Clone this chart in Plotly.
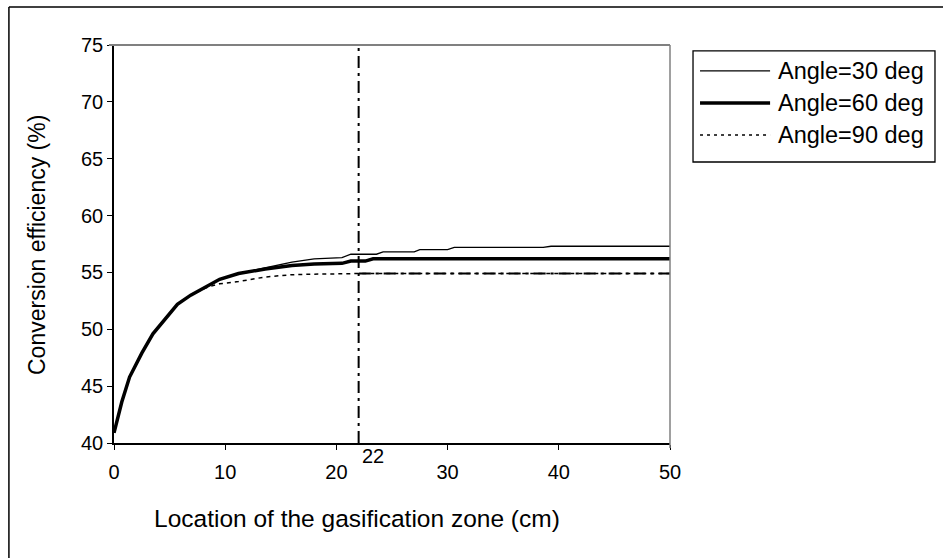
import plotly.graph_objects as go

# location of the gasification zone (cm) and conversion efficiency (%)
x_30 = [0, 0.7, 1.4, 2.5, 3.5, 4.6, 5.7, 6.9, 8.4, 9.5, 11.2, 13.6, 16, 18, 20.5, 21.3,
        23.6, 24.2, 27.0, 27.5, 30.0, 30.6, 38.6, 39.3, 50]
y_30 = [40.9, 43.6, 45.8, 47.9, 49.6, 50.9, 52.2, 53.0, 53.8, 54.4, 54.9, 55.4, 55.9, 56.2, 56.3, 56.6,
        56.6, 56.8, 56.8, 57.0, 57.0, 57.2, 57.2, 57.3, 57.3]

x_60 = [0, 0.7, 1.4, 2.5, 3.5, 4.6, 5.7, 6.9, 8.4, 9.5, 11.2, 13.6, 16, 18, 20.5, 21.3,
        22.6, 23.3, 50]
y_60 = [40.9, 43.6, 45.8, 47.9, 49.6, 50.9, 52.2, 53.0, 53.8, 54.4, 54.9, 55.3, 55.6, 55.75, 55.8, 56.0,
        56.0, 56.2, 56.2]

x_90 = [0, 0.7, 1.4, 2.5, 3.5, 4.6, 5.7, 6.9, 8.4, 9.5, 11.2, 13.6, 16, 18, 22, 50]
y_90 = [40.9, 43.6, 45.8, 47.9, 49.6, 50.9, 52.2, 53.0, 53.7, 54.0, 54.2, 54.6, 54.8, 54.85, 54.9, 54.9]

# marker lines at the chosen zone location
ref_x = 22
ref_y = 54.9

names = ['Angle=30 deg', 'Angle=60 deg', 'Angle=90 deg']

FONT = 'Arial, Liberation Sans, sans-serif'

fig = go.Figure()

fig.add_trace(go.Scatter(x=x_30, y=y_30, mode='lines', name=names[0],
                         line=dict(color='black', width=1.3), showlegend=False))
fig.add_trace(go.Scatter(x=x_60, y=y_60, mode='lines', name=names[1],
                         line=dict(color='black', width=3.5), showlegend=False))
fig.add_trace(go.Scatter(x=x_90, y=y_90, mode='lines', name=names[2],
                         line=dict(color='black', width=1.5, dash='4px,4px'), showlegend=False))

# dash-dot guide lines
fig.add_trace(go.Scatter(x=[ref_x, ref_x], y=[40, 75], mode='lines', hoverinfo='skip',
                         line=dict(color='black', width=2, dash='12px,5px,3px,5px'), showlegend=False))
fig.add_trace(go.Scatter(x=[ref_x, 50], y=[ref_y, ref_y], mode='lines', hoverinfo='skip',
                         line=dict(color='black', width=2, dash='12px,5px,3px,5px'), showlegend=False))

shapes = [
    # outer chart frame (top and left visible)
    dict(type='line', xref='paper', yref='paper', x0=-0.189, x1=1.6, y0=1.0955, y1=1.0955,
         line=dict(color='black', width=1.5)),
    dict(type='line', xref='paper', yref='paper', x0=-0.189, x1=-0.189, y0=1.0955, y1=-0.4,
         line=dict(color='black', width=1.5)),
    # grey top and right plot-area border
    dict(type='line', xref='paper', yref='paper', x0=-0.009, x1=1, y0=1, y1=1,
         line=dict(color='#808080', width=2)),
    dict(type='line', xref='paper', yref='paper', x0=1, x1=1, y0=1, y1=-0.0126,
         line=dict(color='#808080', width=1.5)),
    # legend box
    dict(type='rect', xref='paper', yref='paper', x0=1.0414, x1=1.4766, y0=0.706, y1=0.985,
         line=dict(color='black', width=1.3), fillcolor='white'),
]

legend_y = [0.935, 0.854, 0.774]
legend_lines = [dict(width=1.3), dict(width=3.5), dict(width=1.5, dash='3px,4px')]
annotations = []
for name, ly, ln in zip(names, legend_y, legend_lines):
    shapes.append(dict(type='line', xref='paper', yref='paper', x0=1.054, x1=1.180, y0=ly, y1=ly,
                       line=dict(color='black', **ln)))
    annotations.append(dict(text=name, xref='paper', yref='paper', x=1.19, y=ly,
                            xanchor='left', yanchor='middle', showarrow=False,
                            font=dict(family=FONT, size=23.5, color='black')))

annotations.append(dict(text='22', xref='x', yref='paper', x=ref_x, y=0, xanchor='left', yanchor='top',
                        yshift=0, xshift=1, showarrow=False, font=dict(family=FONT, size=20, color='black')))
annotations.append(dict(text='Location of the gasification zone (cm)', xref='paper', yref='paper',
                        x=(357 - 114) / 556, y=(443 - 518) / 398, xanchor='center', yanchor='middle',
                        showarrow=False, font=dict(family=FONT, size=24.5, color='black')))
annotations.append(dict(text='Conversion efficiency (%)', xref='paper', yref='paper',
                        x=(37 - 114) / 556, y=(443 - 245) / 398, xanchor='center', yanchor='middle',
                        textangle=-90, showarrow=False, font=dict(family=FONT, size=23, color='black')))

fig.update_layout(
    width=943, height=558,
    margin=dict(l=114, r=273, t=45, b=115),
    paper_bgcolor='white', plot_bgcolor='white',
    font=dict(family=FONT, size=20, color='black'),
    shapes=shapes, annotations=annotations,
    showlegend=False,
)
fig.update_xaxes(range=[0, 50], tickvals=[0, 10, 20, 30, 40, 50], showgrid=False, zeroline=False,
                 showline=True, linecolor='black', linewidth=1.5, ticks='outside', ticklen=5,
                 tickcolor='black', tickfont=dict(size=20), ticklabelstandoff=5)
fig.update_yaxes(range=[40, 75], tickvals=[40, 45, 50, 55, 60, 65, 70, 75], showgrid=False, zeroline=False,
                 showline=True, linecolor='black', linewidth=1.5, ticks='outside', ticklen=5,
                 tickcolor='black', tickfont=dict(size=20))

# page body margin would shift the whole chart, drop it
fig.write_html("out.html", config={'displayModeBar': False},
               post_script="document.body.style.margin='0';")
